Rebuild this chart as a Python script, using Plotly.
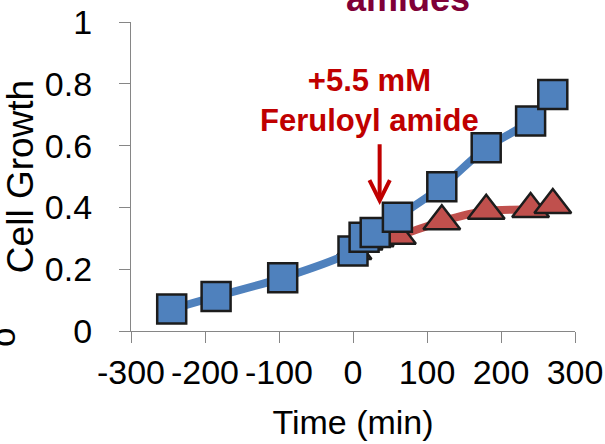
import plotly.graph_objects as go

# Data
blue_t = [-245, -185, -95, 0, 15, 30, 60, 120, 180, 240, 270]
blue_y = [0.071, 0.112, 0.172, 0.259, 0.303, 0.319, 0.368, 0.467, 0.593, 0.680, 0.765]

red_t = [0, 15, 30, 60, 120, 180, 240, 270]
red_y = [0.259, 0.290, 0.300, 0.308, 0.355, 0.389, 0.395, 0.408]

x_ticks = [-300, -200, -100, 0, 100, 200, 300]
x_tick_text = ["-300", "-200", "-100", "0", "100", "200", "300"]
y_ticks = [0, 0.2, 0.4, 0.6, 0.8, 1]
y_tick_text = ["0", "0.2", "0.4", "0.6", "0.8", "1"]

arrow_t = 36
arrow_tip_y = 0.408
arrow_tail_y = 0.609

FONT = "Liberation Sans, Arial, sans-serif"
AX = "#868686"

fig = go.Figure()

fig.add_trace(go.Scatter(
    x=red_t, y=red_y, mode="lines+markers", name="Feruloyl amide",
    line=dict(color="#C0504D", width=8, shape="spline", smoothing=0.8),
    marker=dict(symbol="triangle-up", size=32, color="#C0504D",
                line=dict(color="#1C1C1C", width=2.5)),
    cliponaxis=False, showlegend=False,
))
fig.add_trace(go.Scatter(
    x=blue_t, y=blue_y, mode="lines+markers", name="Control",
    line=dict(color="#4F81BD", width=8, shape="spline", smoothing=0.8),
    marker=dict(symbol="square", size=29, color="#4F81BD",
                line=dict(color="#1C1C1C", width=2.5)),
    cliponaxis=False, showlegend=False,
))

fig.update_layout(
    width=605, height=444,
    margin=dict(l=131, r=30, t=22, b=113, autoexpand=False),
    paper_bgcolor="white", plot_bgcolor="white",
    font=dict(family=FONT, color="black"),
    xaxis=dict(
        range=[-300, 300], tickvals=x_ticks, ticktext=x_tick_text, tickangle=0,
        ticks="outside", ticklen=11, automargin=False,
        tickcolor=AX, tickwidth=1.3, showline=True, linecolor=AX, linewidth=1.3,
        showgrid=False, zeroline=False, tickfont=dict(size=34, family=FONT),
        title=dict(text="Time (min)", font=dict(size=34, family=FONT), standoff=20),
    ),
    yaxis=dict(
        range=[0, 1], tickvals=y_ticks, ticktext=y_tick_text, ticks="outside",
        ticklen=11, tickcolor=AX, tickwidth=1.3, showline=True, linecolor=AX,
        linewidth=1.3, showgrid=False, zeroline=False, automargin=False,
        ticklabelstandoff=20,
        tickfont=dict(size=34, family=FONT),
        title=dict(text="Cell Growth", font=dict(size=37, family=FONT), standoff=0),
    ),
)

# cut-off title at the top
fig.add_annotation(
    text="<b>amides</b>", xref="paper", yref="paper", x=(408 - 131) / 444,
    y=1 + (22 - 12) / 309, xanchor="center", yanchor="bottom", showarrow=False,
    font=dict(size=36, color="#7F0037", family=FONT), yshift=-9,
)

# treatment label
fig.add_annotation(
    text="<b>+5.5 mM<br>Feruloyl amide</b>", x=22, y=0.745, xref="x", yref="y",
    showarrow=False, font=dict(size=31, color="#C00000", family=FONT),
    xanchor="center", yanchor="middle",
)

# arrow
fig.add_annotation(
    text="", x=arrow_t, y=arrow_tip_y, ax=arrow_t, ay=arrow_tail_y,
    xref="x", yref="y", axref="x", ayref="y", showarrow=True,
    arrowhead=5, arrowsize=1, arrowwidth=4, arrowcolor="#C00000",
)

# cut-off glyph at the lower-left edge
fig.add_annotation(
    text="o", xref="paper", yref="paper", x=(2 - 131) / 444, y=(331 - 338) / 309,
    textangle=-90, showarrow=False, font=dict(size=35, family=FONT, color="black"),
    xanchor="center", yanchor="middle",
)

fig.write_html("out.html")
